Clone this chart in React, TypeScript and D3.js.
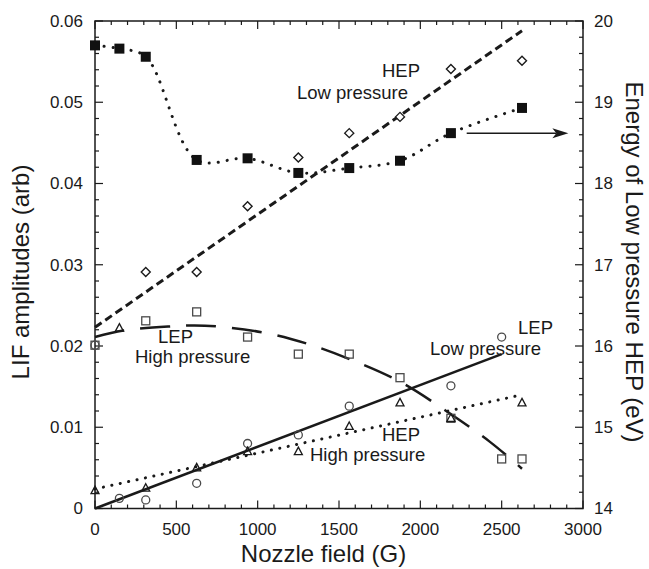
import React from "react";
import * as d3 from "d3";

const energyX = [0, 150, 312, 625, 938, 1250, 1563, 1875, 2188, 2625];
const energyEv = [19.7, 19.66, 19.56, 18.29, 18.31, 18.13, 18.19, 18.28, 18.62, 18.93];

// HEP, low pressure (diamonds) + dashed fit
const hepLowX = [312, 625, 938, 1250, 1563, 1875, 2188, 2625];
const hepLowY = [0.0291, 0.0291, 0.0372, 0.0432, 0.0462, 0.0482, 0.0541, 0.0551];
const hepLowFitX = [0, 2625];
const hepLowFitY = [0.0223, 0.0588];

// LEP, high pressure (open squares) + long-dash fit
const lepHighX = [0, 312, 625, 938, 1250, 1563, 1875, 2188, 2500, 2625];
const lepHighY = [0.0201, 0.0231, 0.0242, 0.0211, 0.019, 0.019, 0.0161, 0.0111, 0.0061, 0.0061];
const lepHighFitX = [0, 175, 449, 676, 1025, 1301, 1588, 1875, 2152, 2428, 2625];
const lepHighFitY = [0.0211, 0.0219, 0.0224, 0.0225, 0.0217, 0.0203, 0.0182, 0.0156, 0.0121, 0.0082, 0.0049];

// LEP, low pressure (circles) + solid fit
const lepLowX = [0, 150, 312, 625, 938, 1250, 1563, 2188, 2500];
const lepLowY = [0.0201, 0.00125, 0.00105, 0.0031, 0.008, 0.00905, 0.0126, 0.0151, 0.0211];
const lepLowFitX = [0, 2500];
const lepLowFitY = [0, 0.019];

// HEP, high pressure (triangles) + dotted fit
const hepHighX = [0, 150, 312, 625, 938, 1250, 1563, 1875, 2188, 2625];
const hepHighY = [0.0022, 0.0222, 0.0025, 0.005, 0.007, 0.007, 0.0101, 0.013, 0.0111, 0.013];
const hepHighFitX = [0, 2625];
const hepHighFitY = [0.0024, 0.014];

// arrow pointing at the right axis
const arrowX = [2285, 2910];
const arrowEv = 18.62;

const xTicks = [0, 500, 1000, 1500, 2000, 2500, 3000];
const yLeftTicks = [0, 0.01, 0.02, 0.03, 0.04, 0.05, 0.06];
const yRightTicks = [14, 15, 16, 17, 18, 19, 20];

const W = 649;
const H = 569;
const left = 95, right = 583, top = 21, bottom = 508.5;
const font = "'Liberation Sans', Arial, Helvetica, sans-serif";
const ink = "#1a1a1a";
const grey = "#4a4a4a";

const zip = (xs: number[], ys: number[]) => xs.map((x, i) => [x, ys[i]] as [number, number]);

export default function App() {
  const x = d3.scaleLinear().domain([0, 3000]).range([left, right]);
  const yL = d3.scaleLinear().domain([0, 0.06]).range([bottom, top]);
  const yR = d3.scaleLinear().domain([14, 20]).range([bottom, top]);

  const lineL = d3.line<[number, number]>().x((d) => x(d[0])).y((d) => yL(d[1]));
  const curveL = d3
    .line<[number, number]>()
    .x((d) => x(d[0]))
    .y((d) => yL(d[1]))
    .curve(d3.curveCatmullRom.alpha(0.5));
  const curveR = d3
    .line<[number, number]>()
    .x((d) => x(d[0]))
    .y((d) => yR(d[1]))
    .curve(d3.curveCatmullRom.alpha(0.5));

  const xMinor = d3.range(0, 3001, 100);
  const yLMinor = d3.range(0, 0.0601, 0.002);
  const yRMinor = d3.range(14, 20.01, 0.2);

  const isMajorX = (v: number) => Math.abs(v % 500) < 1e-6;
  const isMajorL = (v: number) => Math.abs(Math.round(v * 100) - v * 100) < 1e-6;
  const isMajorR = (v: number) => Math.abs(Math.round(v) - v) < 1e-6;

  const ay = yR(arrowEv);
  const ax0 = x(arrowX[0]);
  const ax1 = x(arrowX[1]);

  return (
    <svg
      width={W}
      height={H}
      style={{ position: "absolute", left: 0, top: 0, background: "#fff" }}
      fontFamily={font}
    >
      <rect x={0} y={0} width={W} height={H} fill="#fff" />

      {/* ticks */}
      <g stroke={ink} strokeWidth={1.2}>
        {xMinor.map((v) => {
          const len = isMajorX(v) ? 8 : 4;
          return (
            <g key={"xt" + v}>
              <line x1={x(v)} x2={x(v)} y1={bottom} y2={bottom - len} />
              <line x1={x(v)} x2={x(v)} y1={top} y2={top + len} />
            </g>
          );
        })}
        {yLMinor.map((v) => {
          const len = isMajorL(v) ? 8 : 4;
          return <line key={"yl" + v} x1={left} x2={left + len} y1={yL(v)} y2={yL(v)} />;
        })}
        {yRMinor.map((v) => {
          const len = isMajorR(v) ? 8 : 4;
          return <line key={"yr" + v} x1={right} x2={right - len} y1={yR(v)} y2={yR(v)} />;
        })}
      </g>
      <rect
        x={left}
        y={top}
        width={right - left}
        height={bottom - top}
        fill="none"
        stroke={ink}
        strokeWidth={1.5}
      />

      {/* tick labels */}
      <g fontSize={17} fill={ink}>
        {xTicks.map((v) => (
          <text key={"xl" + v} x={x(v)} y={535} textAnchor="middle">
            {v}
          </text>
        ))}
        {yLeftTicks.map((v) => (
          <text key={"yll" + v} x={83} y={yL(v)} dy="0.35em" textAnchor="end">
            {v === 0 ? "0" : v.toFixed(2)}
          </text>
        ))}
        {yRightTicks.map((v) => (
          <text key={"yrl" + v} x={594} y={yR(v)} dy="0.35em" textAnchor="start">
            {v}
          </text>
        ))}
      </g>

      {/* axis titles */}
      <text x={323.5} y={562} fontSize={24} textAnchor="middle" fill={ink}>
        Nozzle field (G)
      </text>
      <text
        transform="translate(29,272) rotate(-90)"
        fontSize={24}
        textAnchor="middle"
        fill={ink}
      >
        LIF amplitudes (arb)
      </text>
      <text
        transform="translate(626,262) rotate(90)"
        fontSize={24}
        textAnchor="middle"
        fill={ink}
      >
        Energy of Low pressure HEP (eV)
      </text>

      {/* fit lines */}
      <path
        d={lineL(zip(hepLowFitX, hepLowFitY)) || ""}
        fill="none"
        stroke={ink}
        strokeWidth={3}
        strokeDasharray="8,4.5"
      />
      <path
        d={curveL(zip(lepHighFitX, lepHighFitY)) || ""}
        fill="none"
        stroke={ink}
        strokeWidth={2.5}
        strokeDasharray="30,16"
      />
      <path
        d={lineL(zip(lepLowFitX, lepLowFitY)) || ""}
        fill="none"
        stroke={ink}
        strokeWidth={2.5}
      />
      <path
        d={lineL(zip(hepHighFitX, hepHighFitY)) || ""}
        fill="none"
        stroke={ink}
        strokeWidth={3}
        strokeLinecap="round"
        strokeDasharray="0.1,8.5"
      />
      <path
        d={curveR(zip(energyX, energyEv)) || ""}
        fill="none"
        stroke={ink}
        strokeWidth={3}
        strokeLinecap="round"
        strokeDasharray="0.1,9"
      />

      {/* arrow */}
      <line x1={ax0} x2={ax1 - 12} y1={ay} y2={ay} stroke={ink} strokeWidth={1.5} />
      <path d={`M${ax1},${ay} L${ax1 - 16},${ay - 5} L${ax1 - 12},${ay} L${ax1 - 16},${ay + 5} Z`} fill={ink} />

      {/* markers */}
      <g fill="none" stroke={grey} strokeWidth={1.3}>
        {zip(lepHighX, lepHighY).map((d, i) => (
          <rect key={"sq" + i} x={x(d[0]) - 4} y={yL(d[1]) - 4} width={8} height={8} />
        ))}
        {zip(lepLowX, lepLowY).map((d, i) => (
          <circle key={"ci" + i} cx={x(d[0])} cy={yL(d[1])} r={4} />
        ))}
      </g>
      <g fill="#fff" stroke={ink} strokeWidth={1.4}>
        {zip(hepLowX, hepLowY).map((d, i) => {
          const cx = x(d[0]);
          const cy = yL(d[1]);
          return (
            <path
              key={"di" + i}
              d={`M${cx},${cy - 4.5} L${cx + 4.5},${cy} L${cx},${cy + 4.5} L${cx - 4.5},${cy} Z`}
            />
          );
        })}
      </g>
      <g fill="none" stroke={ink} strokeWidth={1.3}>
        {zip(hepHighX, hepHighY).map((d, i) => {
          const cx = x(d[0]);
          const cy = yL(d[1]);
          return (
            <path
              key={"tr" + i}
              d={`M${cx},${cy - 4.5} L${cx + 4},${cy + 3} L${cx - 4},${cy + 3} Z`}
            />
          );
        })}
      </g>
      <g fill="#111">
        {zip(energyX, energyEv).map((d, i) => (
          <rect key={"fs" + i} x={x(d[0]) - 5} y={yR(d[1]) - 5} width={10} height={10} />
        ))}
      </g>

      {/* annotations */}
      <g fontSize={18.5} fill={ink}>
        <text x={382} y={77}>HEP</text>
        <text x={297} y={99}>Low pressure</text>
        <text x={158} y={343}>LEP</text>
        <text x={135} y={363}>High pressure</text>
        <text x={382} y={441}>HEP</text>
        <text x={310} y={461}>High pressure</text>
        <text x={518} y={334}>LEP</text>
        <text x={430} y={355}>Low pressure</text>
      </g>
    </svg>
  );
}
